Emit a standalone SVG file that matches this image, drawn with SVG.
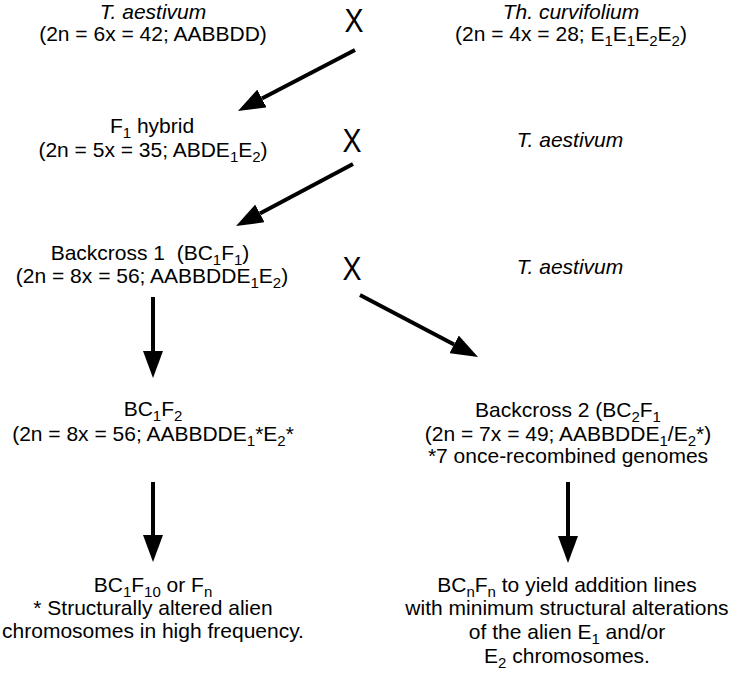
<svg xmlns="http://www.w3.org/2000/svg" width="740" height="678" viewBox="0 0 740 678">
<style>
text{font-family:"Liberation Sans",Arial,Helvetica,sans-serif;font-size:21px;fill:#000;text-anchor:middle}
.it{font-style:italic}
.s{font-size:15px}
.x{font-size:34px}
.pre{white-space:pre}
.ln{stroke:#000;stroke-width:4;fill:none;marker-end:url(#ah)}
</style>
<defs>
<marker id="ah" viewBox="0 0 27 20" refX="0" refY="10" markerWidth="27" markerHeight="20" markerUnits="userSpaceOnUse" orient="auto">
<path d="M0,0 L27,10 L0,20 z" fill="#000"/>
</marker>
</defs>
<rect width="740" height="678" fill="#fff"/>
<g id="parent1">
<text class="it" x="153" y="19">T. aestivum</text>
<text x="153" y="41">(2n = 6x = 42; AABBDD)</text>
</g>
<g id="cross1"><text class="x" x="354" y="32" textLength="19" lengthAdjust="spacingAndGlyphs">X</text></g>
<g id="parent2">
<text class="it" x="571" y="19">Th. curvifolium</text>
<text x="571" y="41">(2n = 4x = 28; E<tspan class="s" dy="5">1</tspan><tspan dy="-5">E</tspan><tspan class="s" dy="5">1</tspan><tspan dy="-5">E</tspan><tspan class="s" dy="5">2</tspan><tspan dy="-5">E</tspan><tspan class="s" dy="5">2</tspan><tspan dy="-5">)</tspan></text>
</g>
<g id="f1">
<text x="152" y="133">F<tspan class="s" dy="5">1</tspan><tspan dy="-5"> hybrid</tspan></text>
<text x="153" y="157">(2n = 5x = 35; ABDE<tspan class="s" dy="5">1</tspan><tspan dy="-5">E</tspan><tspan class="s" dy="5">2</tspan><tspan dy="-5">)</tspan></text>
</g>
<g id="cross2"><text class="x" x="352" y="152" textLength="19" lengthAdjust="spacingAndGlyphs">X</text></g>
<g id="parent3"><text class="it" x="570" y="147">T. aestivum</text></g>
<g id="bc1f1">
<text class="pre" x="150" y="260">Backcross 1  (BC<tspan class="s" dy="5">1</tspan><tspan dy="-5">F</tspan><tspan class="s" dy="5">1</tspan><tspan dy="-5">)</tspan></text>
<text x="152" y="283">(2n = 8x = 56; AABBDDE<tspan class="s" dy="5">1</tspan><tspan dy="-5">E</tspan><tspan class="s" dy="5">2</tspan><tspan dy="-5">)</tspan></text>
</g>
<g id="cross3"><text class="x" x="352" y="280" textLength="19" lengthAdjust="spacingAndGlyphs">X</text></g>
<g id="parent4"><text class="it" x="570" y="274">T. aestivum</text></g>
<g id="bc1f2">
<text x="153" y="416">BC<tspan class="s" dy="5">1</tspan><tspan dy="-5">F</tspan><tspan class="s" dy="5">2</tspan></text>
<text x="153" y="441">(2n = 8x = 56; AABBDDE<tspan class="s" dy="5">1</tspan><tspan dy="-5">*E</tspan><tspan class="s" dy="5">2</tspan><tspan dy="-5">*</tspan></text>
</g>
<g id="bc2f1">
<text x="568" y="417">Backcross 2 (BC<tspan class="s" dy="5">2</tspan><tspan dy="-5">F</tspan><tspan class="s" dy="5">1</tspan></text>
<text x="568" y="441">(2n = 7x = 49; AABBDDE<tspan class="s" dy="5">1</tspan><tspan dy="-5">/E</tspan><tspan class="s" dy="5">2</tspan><tspan dy="-5">*)</tspan></text>
<text x="568" y="463">*7 once-recombined genomes</text>
</g>
<g id="bc1f10">
<text x="153" y="592">BC<tspan class="s" dy="5">1</tspan><tspan dy="-5">F</tspan><tspan class="s" dy="5">10</tspan><tspan dy="-5"> or F</tspan><tspan class="s" dy="5">n</tspan></text>
<text x="153" y="615">* Structurally altered alien</text>
<text x="153" y="638">chromosomes in high frequency.</text>
</g>
<g id="bcnfn">
<text x="567" y="592">BC<tspan class="s" dy="5">n</tspan><tspan dy="-5">F</tspan><tspan class="s" dy="5">n</tspan><tspan dy="-5"> to yield addition lines</tspan></text>
<text x="567" y="615">with minimum structural alterations</text>
<text x="567" y="639">of the alien E<tspan class="s" dy="5">1</tspan><tspan dy="-5"> and/or</tspan></text>
<text x="567" y="663">E<tspan class="s" dy="5">2</tspan><tspan dy="-5"> chromosomes.</tspan></text>
</g>
<g id="connectors">
<line class="ln" x1="355" y1="50" x2="261.9" y2="98.5"/>
<line class="ln" x1="353" y1="164" x2="259.9" y2="213.4"/>
<line class="ln" x1="153" y1="297" x2="153" y2="351"/>
<line class="ln" x1="360" y1="295" x2="454.1" y2="344.4"/>
<line class="ln" x1="153" y1="482" x2="153" y2="535"/>
<line class="ln" x1="568" y1="482" x2="568" y2="536"/>
</g>
</svg>
